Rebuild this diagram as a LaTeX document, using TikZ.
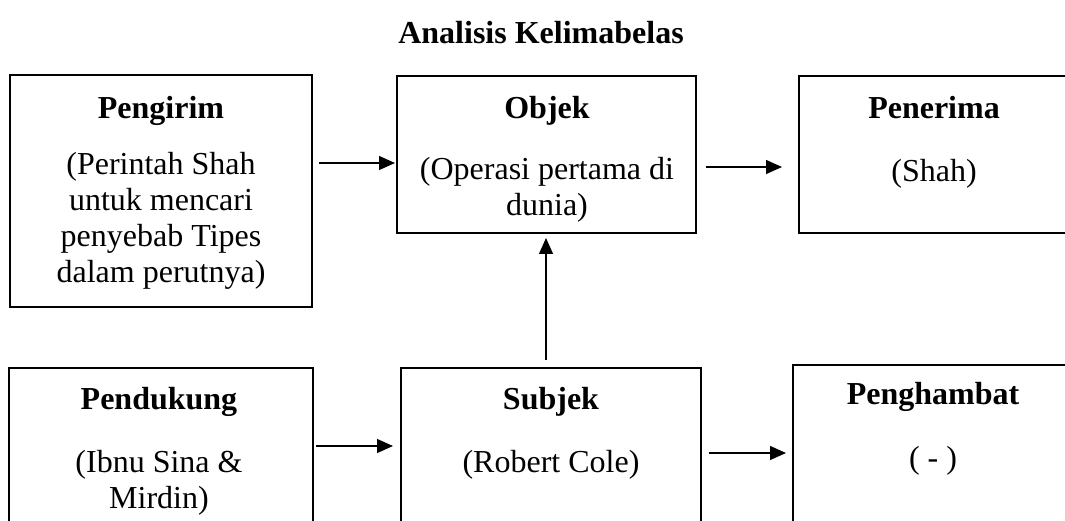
\documentclass[tikz,border=0pt]{standalone}
\usepackage{fontspec}
\setmainfont{Liberation Serif}
\usetikzlibrary{arrows.meta}
\begin{document}
\begin{tikzpicture}[x=1pt,y=-1pt,
  box/.style={draw, line width=1.6pt, rectangle, inner sep=0pt, outer sep=0pt},
  head/.style={anchor=base, font=\fontsize{32}{36}\selectfont\bfseries, inner sep=0pt},
  body/.style={anchor=base, font=\fontsize{32}{36}\selectfont, inner sep=0pt},
  arr/.style={-{Triangle[length=16pt,width=14pt]}, line width=1.3pt}]
\useasboundingbox (0,0) rectangle (1065,521);

% title
\node[head] (title) at (541,44) {Analisis Kelimabelas};

% boxes of the upper row
\node[box, minimum width=302pt, minimum height=232pt] (pengirim) at (161,191) {};
\node[box, minimum width=299pt, minimum height=157pt] (objek) at (546.5,154.5) {};
\node[box, minimum width=272pt, minimum height=157pt] (penerima) at (935,154.5) {};

% boxes of the lower row (running past the lower edge)
\node[box, minimum width=304pt, minimum height=232pt] (pendukung) at (161,484) {};
\node[box, minimum width=300pt, minimum height=232pt] (subjek) at (551,484) {};
\node[box, minimum width=280pt, minimum height=235pt] (penghambat) at (933,482.5) {};

% texts of the upper row
\node[head] (pengirim-h) at (161,119) {Pengirim};
\node[body] (pengirim-b) at (161,175) {\begin{tabular}[t]{@{}c@{}}(Perintah Shah\\untuk mencari\\penyebab Tipes\\dalam perutnya)\end{tabular}};
\node[head] (objek-h) at (547,119) {Objek};
\node[body] (objek-b) at (547,180) {\begin{tabular}[t]{@{}c@{}}(Operasi pertama di\\dunia)\end{tabular}};
\node[head] (penerima-h) at (934,119) {Penerima};
\node[body] (penerima-b) at (934,182) {(Shah)};

% texts of the lower row
\node[head] (pendukung-h) at (159,409) {Pendukung};
\node[body] (pendukung-b) at (159,472) {\begin{tabular}[t]{@{}c@{}}(Ibnu Sina \&\\Mirdin)\end{tabular}};
\node[head] (subjek-h) at (551,409) {Subjek};
\node[body] (subjek-b) at (551,472) {(Robert Cole)};
\node[head] (penghambat-h) at (933,404) {Penghambat};
\node[body] (penghambat-b) at (933,468) {( - )};

% connectors
\draw[arr, shorten <=7pt, shorten >=2pt] (pengirim.east |- 0,163) -- (objek.west |- 0,163);
\draw[arr, shorten <=10pt, shorten >=17pt] (objek.east |- 0,167) -- (penerima.west |- 0,167);
\draw[arr, shorten <=8pt, shorten >=5pt] (subjek.north -| 546,0) -- (objek.south -| 546,0);
\draw[arr, shorten <=3pt, shorten >=8pt] (pendukung.east |- 0,446) -- (subjek.west |- 0,446);
\draw[arr, shorten <=8pt, shorten >=7pt] (subjek.east |- 0,453) -- (penghambat.west |- 0,453);
\end{tikzpicture}
\end{document}
